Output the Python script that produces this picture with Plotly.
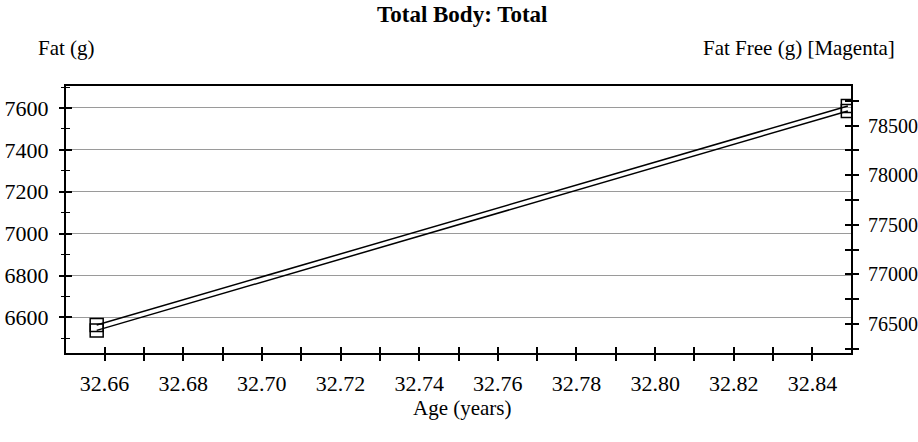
import plotly.graph_objects as go

# Data
age_years = [32.658, 32.849]
fat_g = [6538, 7586]
fat_free_g = [76490, 78699]

x_range = [32.6502, 32.8498]
fat_range = [6430, 7705]
fat_free_range = [76208, 78900]

FONT = "Liberation Serif"
FS = 21
TFS = 22

fig = go.Figure()

fig.add_trace(go.Scatter(
    x=age_years, y=fat_g, mode="lines+markers", name="Fat",
    line=dict(color="black", width=1.5),
    marker=dict(symbol="square-open", size=13, color="black", line=dict(width=1.5)),
    xaxis="x", yaxis="y", hoverinfo="skip",
))
fig.add_trace(go.Scatter(
    x=age_years, y=fat_free_g, mode="lines+markers", name="Fat Free",
    line=dict(color="black", width=1.5),
    marker=dict(symbol="square-open", size=13, color="black", line=dict(width=1.5)),
    xaxis="x", yaxis="y2", hoverinfo="skip",
))
# invisible helper traces so that overlay axes (inner tick halves) are drawn
fig.add_trace(go.Scatter(x=age_years, y=fat_g, mode="lines", opacity=0,
                         xaxis="x2", yaxis="y3", hoverinfo="skip", showlegend=False))
fig.add_trace(go.Scatter(x=age_years, y=fat_free_g, mode="lines", opacity=0,
                         xaxis="x2", yaxis="y4", hoverinfo="skip", showlegend=False))

tickfont = dict(family=FONT, size=TFS, color="black")

fig.update_layout(
    width=918, height=442,
    margin=dict(l=66, r=67, t=86, b=89, autoexpand=False),
    paper_bgcolor="white", plot_bgcolor="white",
    showlegend=False,
    font=dict(family=FONT, size=FS, color="black"),
    xaxis=dict(
        range=x_range, dtick=0.02, tick0=32.66, tickformat=".2f",
        ticks="outside", ticklen=6, tickwidth=1.5, tickcolor="black",
        minor=dict(dtick=0.01, ticks="outside", ticklen=6, tickwidth=1.5, tickcolor="black"),
        showline=True, linecolor="black", linewidth=2, mirror=True,
        showgrid=False, zeroline=False, tickfont=tickfont, ticklabelstandoff=4,
        anchor="y", automargin=False,
    ),
    yaxis=dict(
        range=fat_range, dtick=200, tick0=6600, tickformat="d",
        ticks="outside", ticklen=5, tickwidth=1.5, tickcolor="black",
        minor=dict(dtick=100, ticks="outside", ticklen=3, tickwidth=1.2, tickcolor="black"),
        showline=True, linecolor="black", linewidth=2,
        showgrid=True, gridcolor="#9a9a9a", gridwidth=1,
        zeroline=False, tickfont=tickfont, ticklabelstandoff=6,
        anchor="x", automargin=False,
    ),
    yaxis2=dict(
        range=fat_free_range, dtick=500, tick0=76500, tickformat="d",
        overlaying="y", side="right",
        ticks="outside", ticklen=6, tickwidth=1.5, tickcolor="black",
        minor=dict(dtick=250, ticks="outside", ticklen=6, tickwidth=1.5, tickcolor="black"),
        showline=True, linecolor="black", linewidth=2,
        showgrid=False, zeroline=False,
        tickfont=dict(family=FONT, size=20, color="black"), ticklabelstandoff=5,
        anchor="x", automargin=False,
    ),
    xaxis2=dict(
        range=x_range, dtick=0.02, tick0=32.66, overlaying="x", side="bottom",
        ticks="inside", ticklen=6, tickwidth=1.5, tickcolor="black",
        minor=dict(dtick=0.01, ticks="inside", ticklen=6, tickwidth=1.5, tickcolor="black"),
        showticklabels=False, showline=False, showgrid=False, zeroline=False,
        anchor="y3", automargin=False,
    ),
    yaxis3=dict(
        range=fat_range, dtick=200, tick0=6600, overlaying="y", side="left",
        ticks="inside", ticklen=6, tickwidth=1.5, tickcolor="black",
        minor=dict(dtick=100, ticks="inside", ticklen=4, tickwidth=1.2, tickcolor="black"),
        showticklabels=False, showline=False, showgrid=False, zeroline=False,
        anchor="x2", automargin=False,
    ),
    yaxis4=dict(
        range=fat_free_range, dtick=500, tick0=76500, overlaying="y", side="right",
        ticks="inside", ticklen=6, tickwidth=1.5, tickcolor="black",
        minor=dict(dtick=250, ticks="inside", ticklen=6, tickwidth=1.5, tickcolor="black"),
        showticklabels=False, showline=False, showgrid=False, zeroline=False,
        anchor="x2", automargin=False,
    ),
    annotations=[
        dict(text="<b>Total Body: Total</b>", xref="paper", yref="paper",
             x=0.5045, y=1.266, xanchor="center", yanchor="middle", showarrow=False,
             font=dict(family=FONT, size=23, color="black")),
        dict(text="Fat (g)", xref="paper", yref="paper",
             x=-0.0382, y=1.142, xanchor="left", yanchor="middle", showarrow=False,
             font=dict(family=FONT, size=FS, color="black")),
        dict(text="Fat Free (g) [Magenta]", xref="paper", yref="paper",
             x=1.0586, y=1.142, xanchor="right", yanchor="middle", showarrow=False,
             font=dict(family=FONT, size=FS, color="black")),
        dict(text="Age (years)", xref="paper", yref="paper",
             x=0.5045, y=-0.206, xanchor="center", yanchor="middle", showarrow=False,
             font=dict(family=FONT, size=FS, color="black")),
    ],
)

fig.write_html(
    "out.html",
    config={"displayModeBar": False},
    post_script="document.body.style.margin='0';document.body.style.padding='0';",
)
